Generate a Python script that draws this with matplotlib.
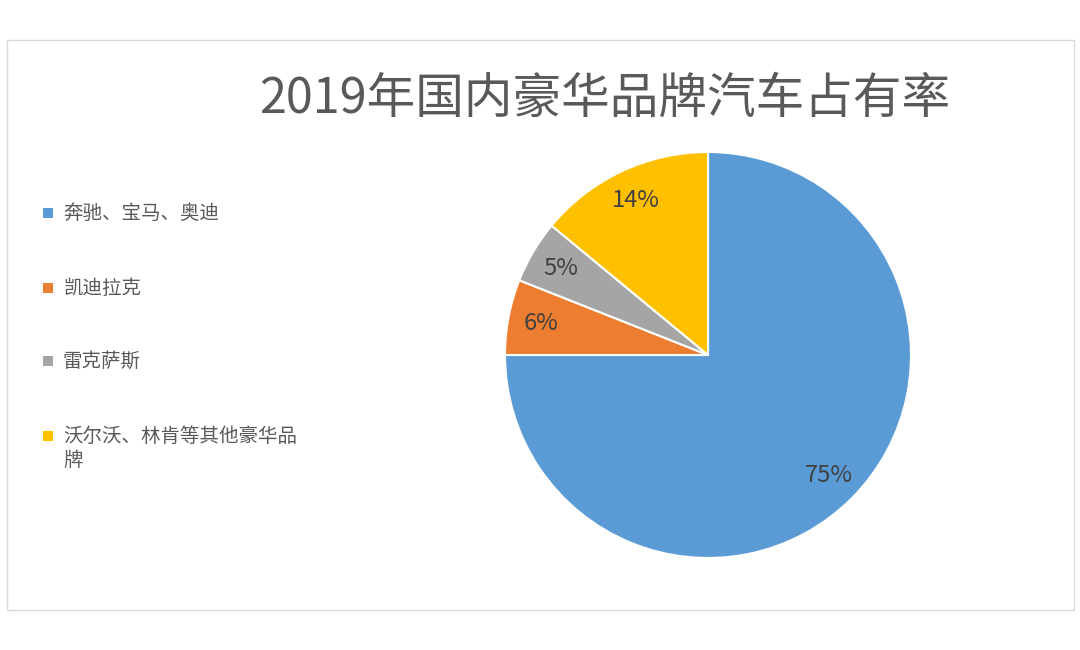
import matplotlib.pyplot as plt
from matplotlib.patches import Rectangle

plt.rcParams['font.family'] = ['Noto Sans CJK SC', 'DejaVu Sans']

# data
brands = ["奔驰、宝马、奥迪", "凯迪拉克", "雷克萨斯", "沃尔沃、林肯等其他豪华品牌"]
share = [75, 6, 5, 14]
colors = ["#5B9BD5", "#ED7D31", "#A5A5A5", "#FFC000"]
title = "2019年国内豪华品牌汽车占有率"

W, H = 1080, 650
fig = plt.figure(figsize=(W / 100, H / 100), dpi=100)

# outer chart border
fig.patches.append(Rectangle((7 / W, 40 / H), 1067 / W, 570 / H, transform=fig.transFigure,
                             fill=False, edgecolor="#D9D9D9", linewidth=1))

fig.text(605 / W, 1 - 99 / H, title, fontsize=35, color="#595959", ha="center", va="center")

# pie axes: centre (708, 355), radius ~203 px
cx, cy, r = 708, 355, 203
ax = fig.add_axes([(cx - r) / W, (H - cy - r) / H, 2 * r / W, 2 * r / H])
wedges, texts, autotexts = ax.pie(share, colors=colors, startangle=90, counterclock=False,
                                  autopct="%d%%", pctdistance=0.84,
                                  wedgeprops=dict(edgecolor="white", linewidth=1.5),
                                  textprops=dict(fontsize=17, color="#404040"))
ax.set_xlim(-1, 1)
ax.set_ylim(-1, 1)
ax.set_aspect("equal")

# legend on the left, one entry per row
ys = [213, 288, 361, 436]
for label, c, y in zip(brands, colors, ys):
    fig.patches.append(Rectangle((43 / W, 1 - (y + 5) / H), 10 / W, 10 / H,
                                 transform=fig.transFigure, facecolor=c, edgecolor="none"))
    text = label if len(label) <= 12 else label[:12] + "\n" + label[12:]
    fig.text(63 / W, 1 - (y - 10) / H, text, fontsize=14, color="#595959",
             ha="left", va="top", linespacing=1.2)

fig.savefig("out.png", dpi=100)
